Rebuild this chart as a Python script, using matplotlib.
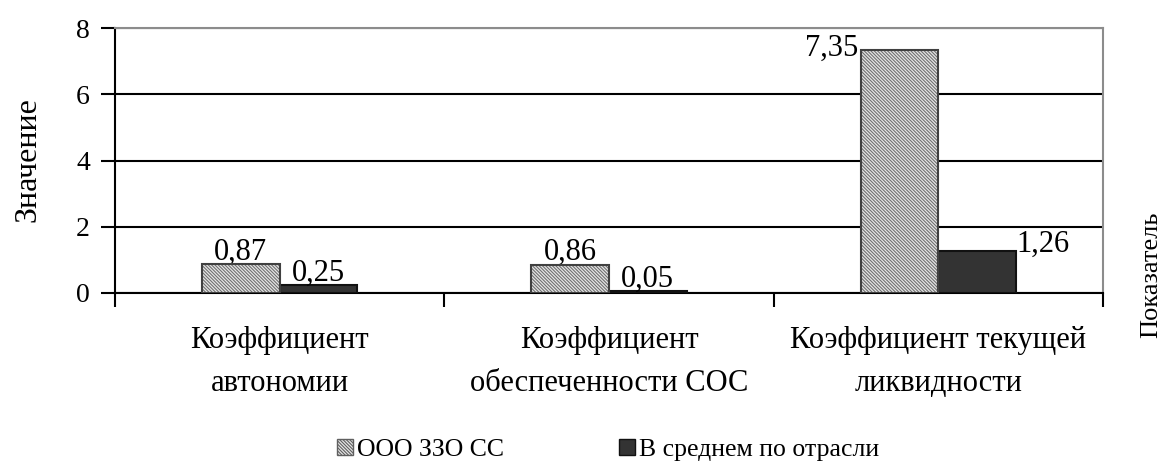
import matplotlib
matplotlib.use("Agg")
import matplotlib.pyplot as plt
import numpy as np
from matplotlib.patches import Patch

plt.rcParams['font.family'] = ['Liberation Serif', 'DejaVu Serif']
plt.rcParams['hatch.linewidth'] = 0.8

categories = ["Коэффициент\nавтономии",
              "Коэффициент\nобеспеченности СОС",
              "Коэффициент текущей\nликвидности"]
series_names = ["ООО ЗЗО СС", "В среднем по отрасли"]
company = [0.87, 0.86, 7.35]
industry = [0.25, 0.05, 1.26]
yticks = [0, 2, 4, 6, 8]

fig = plt.figure(figsize=(11.68, 4.75), dpi=100)
ax = fig.add_axes([115/1168, 1 - 293/475, (1103-115)/1168, (293-28)/475])

x = np.arange(len(categories))
w = 0.236
HATCH = '\\' * 10

# hatched series: fill + hatch, then a separate outline
ax.bar(x - w/2, company, w, color='#e6e6e6', hatch=HATCH, edgecolor='#707070',
       linewidth=0, zorder=3)
ax.bar(x - w/2, company, w, fill=False, edgecolor='#404040', linewidth=1.5, zorder=4)
ax.bar(x + w/2, industry, w, color='#333333', edgecolor='#111111', linewidth=1.5, zorder=3)

fmt = lambda v: f"{v:.2f}".replace('.', ',')
fs = 22
for i, v in enumerate(company):
    if v > 5:
        ax.annotate(fmt(v), (x[i] - w, v), xytext=(-2, 1), textcoords='offset points',
                    ha='right', va='center', fontsize=fs)
    else:
        ax.annotate(fmt(v), (x[i] - w/2, v), xytext=(0, -2), textcoords='offset points',
                    ha='center', va='bottom', fontsize=fs)
for i, v in enumerate(industry):
    if v > 1:
        ax.annotate(fmt(v), (x[i] + w, v), xytext=(0, 5), textcoords='offset points',
                    ha='left', va='center', fontsize=fs)
    else:
        ax.annotate(fmt(v), (x[i] + w/2, v), xytext=(0, -2), textcoords='offset points',
                    ha='center', va='bottom', fontsize=fs)

ax.set_xlim(-0.5, len(categories) - 0.5)
ax.set_ylim(0, 8)
ax.set_yticks(yticks)
ax.set_yticklabels([str(t) for t in yticks], fontsize=20)
ax.yaxis.grid(True, color='black', linewidth=1.5, zorder=0)
ax.set_axisbelow(True)

ax.set_xticks(np.arange(-0.5, len(categories), 1.0))
ax.set_xticklabels([])
ax.set_xticks(x, minor=True)
ax.set_xticklabels(categories, minor=True, fontsize=fs, linespacing=1.6)
ax.tick_params(axis='x', which='major', direction='out', length=10, width=1.5, color='black')
ax.tick_params(axis='x', which='minor', length=0, pad=24)
ax.tick_params(axis='y', direction='out', length=10, width=1.5, color='black', pad=8)

for s in ['left', 'bottom']:
    ax.spines[s].set_color('black')
    ax.spines[s].set_linewidth(1.5)
for s in ['top', 'right']:
    ax.spines[s].set_color('#8c8c8c')
    ax.spines[s].set_linewidth(1.5)

fig.text(28/1168, 1 - 160/475, "Значение", rotation=90, ha='center', va='center', fontsize=23)
fig.text(1151/1168, 1 - 275/475, "Показатель", rotation=90, ha='center', va='center', fontsize=19)

handles = [Patch(facecolor='#e6e6e6', hatch=HATCH, edgecolor='#606060', linewidth=1.0),
           Patch(facecolor='#333333', edgecolor='#111111', linewidth=1.0)]
fig.legend(handles, series_names, loc='center', bbox_to_anchor=(608/1168, 1 - 450/475),
           ncol=2, frameon=False, fontsize=18.5, handlelength=0.6, handleheight=0.6,
           handletextpad=0.15, columnspacing=4.5)

fig.savefig("out.png", dpi=100)
